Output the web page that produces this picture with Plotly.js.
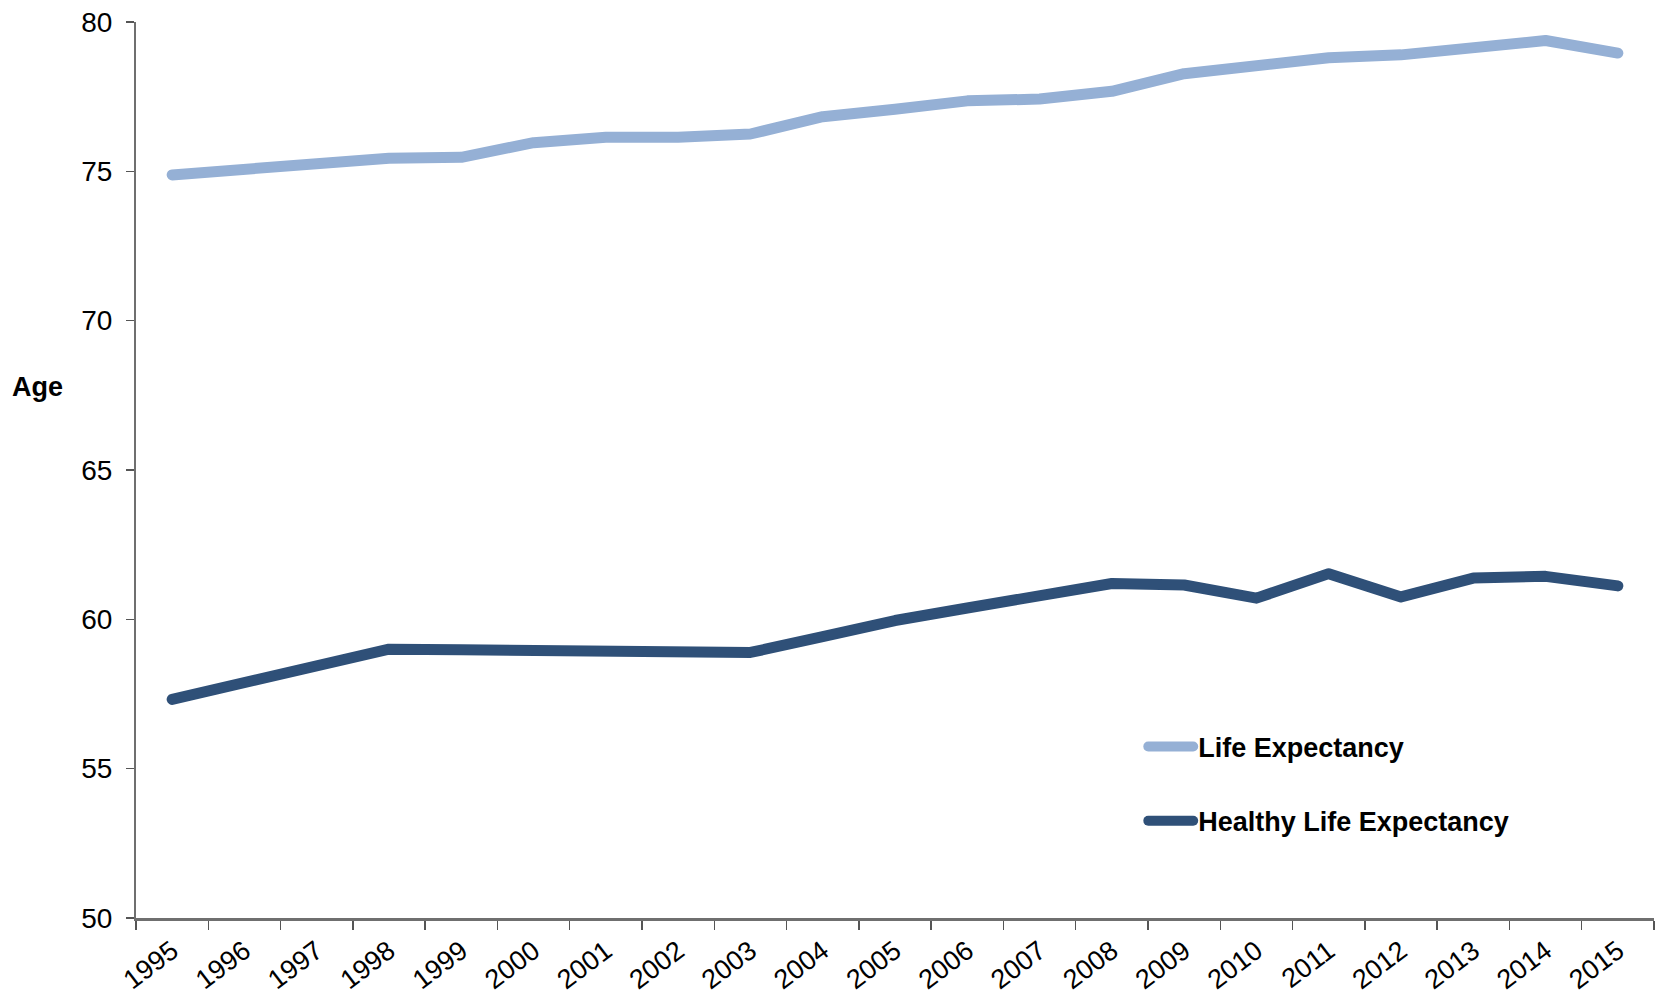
<!DOCTYPE html>
<html>
<head>
<meta charset="utf-8">
<script src="https://cdn.plot.ly/plotly-3.0.1.min.js"></script>
<style>
  html, body { margin: 0; padding: 0; background: #fff; }
  #chart { width: 1657px; height: 1002px; }
  .scatterlayer .js-line, .legendlines path { stroke-linecap: round; stroke-linejoin: round; }
</style>
</head>
<body>
<div id="chart"></div>
<script>
const years = ['1995','1996','1997','1998','1999','2000','2001','2002','2003','2004','2005',
               '2006','2007','2008','2009','2010','2011','2012','2013','2014','2015'];
const lifeExpectancy = [74.88, 75.05, 75.24, 75.44, 75.47, 75.96, 76.14, 76.14, 76.25, 76.83, 77.08,
                        77.36, 77.42, 77.68, 78.27, 78.53, 78.80, 78.90, 79.13, 79.38, 78.96];
const healthyLifeExpectancy = [57.32, 57.86, 58.42, 59.00, 58.98, 58.95, 58.93, 58.91, 58.89, 59.42, 59.96,
                               60.38, 60.80, 61.20, 61.15, 60.71, 61.53, 60.75, 61.38, 61.44, 61.12];
const seriesNames = ['Life Expectancy', 'Healthy Life Expectancy'];
const yTicks = [50, 55, 60, 65, 70, 75, 80];

const FONT = '"Liberation Sans", Arial, sans-serif';

const traces = [
  { x: years, y: lifeExpectancy, name: seriesNames[0], type: 'scatter', mode: 'lines',
    line: { color: '#95B0D5', width: 11 }, legend: 'legend', hoverinfo: 'x+y' },
  { x: years, y: healthyLifeExpectancy, name: seriesNames[1], type: 'scatter', mode: 'lines',
    line: { color: '#2F5078', width: 11 }, legend: 'legend2', hoverinfo: 'x+y' }
];

const legendCommon = {
  xanchor: 'left', yanchor: 'middle',
  bgcolor: 'rgba(0,0,0,0)', borderwidth: 0,
  font: { family: FONT, size: 27, color: '#000', weight: 'bold' },
  itemwidth: 45
};

const layout = {
  width: 1657, height: 1002,
  margin: { l: 136, r: 3, t: 22, b: 84 },
  paper_bgcolor: '#fff', plot_bgcolor: '#fff',
  font: { family: FONT, color: '#000' },
  showlegend: true,
  legend: Object.assign({}, legendCommon, { x: 0.6635, y: 0.191 }),
  legend2: Object.assign({}, legendCommon, { x: 0.6635, y: 0.108 }),
  xaxis: {
    type: 'category',
    range: [-0.5, 20.5],
    tickson: 'boundaries',
    ticks: 'outside', ticklen: 9, tickwidth: 1.3, tickcolor: '#555',
    showline: true, linecolor: '#6f6f6f', linewidth: 2.5,
    showgrid: false, zeroline: false,
    tickangle: -37,
    tickfont: { family: FONT, size: 27, color: '#000' },
    ticklabelstandoff: 4
  },
  yaxis: {
    range: [50, 80],
    tickvals: yTicks,
    ticktext: yTicks.map(String),
    ticks: 'outside', ticklen: 8, tickwidth: 1.3, tickcolor: '#555',
    showline: true, linecolor: '#6f6f6f', linewidth: 2,
    showgrid: false, zeroline: false,
    tickfont: { family: FONT, size: 28, color: '#000' },
    ticklabelstandoff: 8
  },
  annotations: [
    { text: 'Age', xref: 'paper', yref: 'paper', x: -0.083, y: 0.5926,
      xanchor: 'left', yanchor: 'middle', showarrow: false,
      font: { family: FONT, size: 27, color: '#000', weight: 'bold' } }
  ]
};

Plotly.newPlot('chart', traces, layout, { displayModeBar: false, staticPlot: true });
</script>
</body>
</html>
